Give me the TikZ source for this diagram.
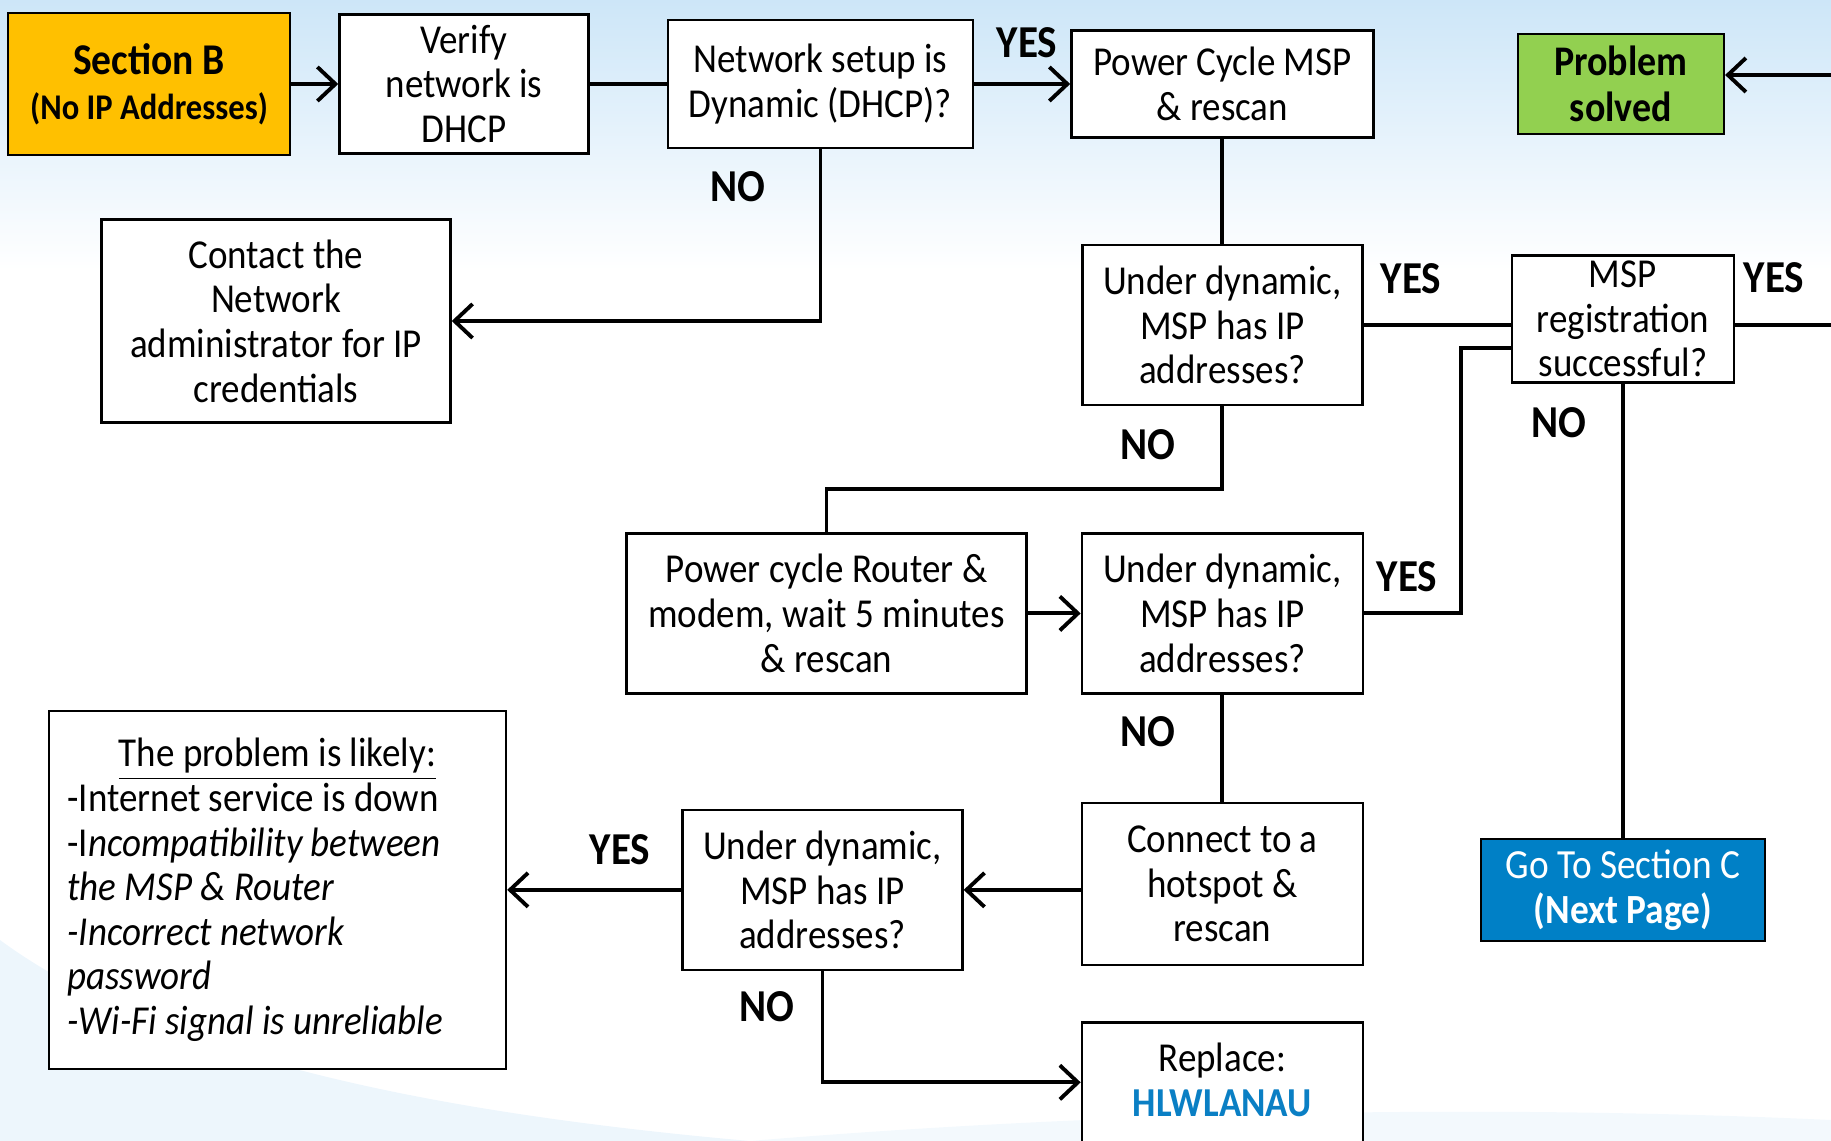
\documentclass[tikz,border=0pt]{standalone}
\usepackage{fontspec}
\setmainfont{Carlito}[FakeStretch=0.9]
\usepackage{xcolor}
\usepackage{tikz}
\usetikzlibrary{arrows.meta, positioning}

\definecolor{secgold}{HTML}{FFC000}
\definecolor{solvedgreen}{HTML}{92D050}
\definecolor{nextblue}{HTML}{0080C6}
\definecolor{partblue}{HTML}{0A7FC4}
\definecolor{skyblue}{HTML}{CDE6F8}

\begin{document}
\begin{tikzpicture}[node distance=1cm]
        \tikzset{
            plain_box/.style={draw, line width=0.7pt, fill=white, align=center, inner sep=2pt, font=\fontsize{11.7}{12.7}\selectfont},
            start_box/.style={plain_box, fill=secgold},
            end_box/.style={plain_box, fill=solvedgreen, font=\fontsize{12}{12.9}\selectfont\bfseries},
            next_box/.style={plain_box, fill=nextblue, text=white, font=\fontsize{11.8}{12.9}\selectfont},
            yes_no/.style={font=\fontsize{13}{14}\selectfont\bfseries, inner sep=0pt},
            plain_line/.style={line width=1.1pt},
            arrow_line/.style={line width=1.1pt, -{Straight Barb[length=1.8mm, width=3.4mm]}}
        }
        \useasboundingbox (0,0) rectangle (18.31,-11.41);
        \clip (0,0) rectangle (18.31,-11.41);
        % background
        \shade[top color=skyblue, bottom color=white] (0,0) rectangle (18.31,-2.7);
        \fill[skyblue!70, opacity=0.5] (0,-9.4) .. controls (1.5,-10.5) and (4,-11.1) .. (7.5,-11.41) -- (0,-11.41) -- cycle;
        \fill[skyblue!60, opacity=0.4] (7.5,-11.41) .. controls (10,-11.2) and (14,-11.0) .. (18.31,-11.2) -- (18.31,-11.41) -- cycle;

        \node[start_box, minimum width=2.82cm, minimum height=1.42cm] (A) at (1.49,-0.84) {{\fontsize{12.5}{13}\selectfont\bfseries Section B}\\{\fontsize{10.3}{12}\selectfont\bfseries (No IP Addresses)}};
        \node[plain_box, minimum width=2.49cm, minimum height=1.39cm, right=0.47cm of A] (B) {Verify\\network is\\DHCP};
        \node[plain_box, minimum width=3.05cm, minimum height=1.28cm, right=0.77cm of B] (C) {Network setup is\\Dynamic (DHCP)?};
        \node[plain_box, minimum width=3.02cm, minimum height=1.07cm, right=0.96cm of C] (D) {Power Cycle MSP\\\& rescan};
        \node[end_box, minimum width=2.06cm, minimum height=1.0cm, right=1.42cm of D] (E) {Problem\\solved};
        \node[plain_box, minimum width=3.49cm, minimum height=2.03cm] (F) at (2.76,-3.21) {Contact the\\Network\\administrator for IP\\credentials};
        \node[plain_box, minimum width=2.8cm, minimum height=1.6cm, below=1.05cm of D] (G) {Under dynamic,\\MSP has IP\\addresses?};
        \node[plain_box, minimum width=2.22cm, minimum height=1.27cm, inner sep=0pt, right=1.47cm of G, yshift=0.06cm] (H) {MSP\\registration\\successful?};
        \node[plain_box, minimum width=2.81cm, minimum height=1.6cm, below=1.26cm of G] (J) {Under dynamic,\\MSP has IP\\addresses?};
        \node[plain_box, minimum width=4.0cm, minimum height=1.6cm, left=0.53cm of J] (I) {Power cycle Router \&\\modem, wait 5 minutes\\\& rescan};
        \node[plain_box, minimum width=2.81cm, minimum height=1.62cm, below=1.07cm of J] (K) {Connect to a\\hotspot \&\\rescan};
        \node[plain_box, minimum width=2.8cm, minimum height=1.6cm, left=1.17cm of K, yshift=-0.06cm] (L) {Under dynamic,\\MSP has IP\\addresses?};
        \node[plain_box, minimum width=4.57cm, minimum height=3.58cm, text width=4.2cm, align=flush left, left=1.74cm of L] (M) {\makebox[\linewidth]{\underline{The problem is likely:}}\\
            -Internet service is down\\
            -I\textit{ncompatibility between}\\
            \textit{the MSP \& Router}\\
            \textit{-Incorrect network}\\
            \textit{password}\\
            \textit{-Wi-Fi signal is unreliable}};
        \node[next_box, minimum width=2.84cm, minimum height=1.02cm, below=4.54cm of H] (N) {Go To Section C\\\textbf{(Next Page)}};
        \node[plain_box, minimum width=2.81cm, minimum height=1.6cm, below=0.55cm of K] (O) {Replace:\\{\color{partblue}\bfseries HLWLANAU}\\~};

        \path (A) edge[arrow_line] (B);
        \path (B) edge[plain_line] (C);
        \path (C) edge[arrow_line] (D);
        \draw[arrow_line] (C.south) |- (F.east);
        \path (D) edge[plain_line] (G);
        \draw[plain_line] (G.east) -- (G.east -| H.west);
        \draw[plain_line] (G.south) -- ++(0,-0.83) -| (I.north);
        \path (I) edge[arrow_line] (J);
        \draw[plain_line] (J.east) -- ++(0.97,0) |- ([yshift=-0.29cm]H.west);
        \path (H) edge[plain_line] (N);
        \draw[arrow_line] (H.east |- G.east) -- ++(2.5,0) |- ([yshift=0.09cm]E.east);
        \path (J) edge[plain_line] (K);
        \draw[arrow_line] (K.west |- L.east) -- (L.east);
        \path (L) edge[arrow_line] (M);
        \draw[arrow_line] (L.south) |- ([yshift=0.2cm]O.west);

        \node[yes_no] (Y1) at (10.27,-0.43) {YES};
        \node[yes_no] (N1) at (7.38,-1.87) {NO};
        \node[yes_no] (Y2) at (14.11,-2.79) {YES};
        \node[yes_no] (N2) at (11.48,-4.45) {NO};
        \node[yes_no] (Y3) at (14.07,-5.77) {YES};
        \node[yes_no] (N3) at (15.59,-4.23) {NO};
        \node[yes_no] (Y4) at (17.74,-2.78) {YES};
        \node[yes_no] (N4) at (11.48,-7.32) {NO};
        \node[yes_no] (Y5) at (6.20,-8.50) {YES};
        \node[yes_no] (N5) at (7.67,-10.07) {NO};
    \end{tikzpicture}
\end{document}
